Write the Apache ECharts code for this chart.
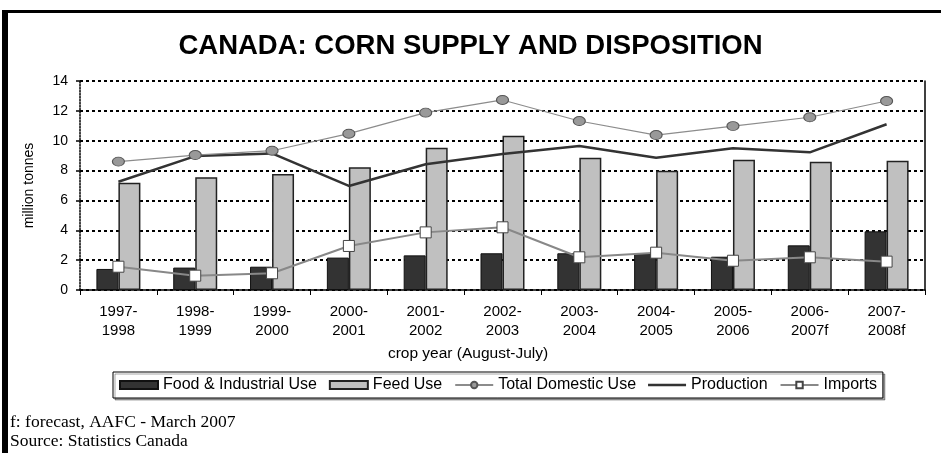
<!DOCTYPE html>
<html>
<head>
<meta charset="utf-8">
<script src="https://cdn.jsdelivr.net/npm/echarts@6/dist/echarts.min.js"></script>
<style>
html,body{margin:0;padding:0;background:#fff;}
#c{width:941px;height:453px;}
</style>
</head>
<body>
<div id="c"></div>
<script>
var categories = ['1997-\n1998','1998-\n1999','1999-\n2000','2000-\n2001','2001-\n2002','2002-\n2003','2003-\n2004','2004-\n2005','2005-\n2006','2006-\n2007f','2007-\n2008f'];
var foodIndustrial = [1.41,1.50,1.56,2.17,2.32,2.46,2.46,2.46,2.23,2.99,3.93];
var feedUse = [7.19,7.55,7.77,8.22,9.53,10.34,8.86,7.99,8.73,8.59,8.66];
var totalDomestic = [8.6,9.04,9.33,10.47,11.88,12.73,11.32,10.38,10.98,11.57,12.66];
var production = [7.25,8.97,9.15,6.97,8.42,9.11,9.64,8.86,9.49,9.22,11.1];
var imports = [1.56,0.96,1.12,2.95,3.86,4.2,2.19,2.5,1.96,2.19,1.9];
var yTicks = {min:0, max:14, interval:2};

var FONT = '"Liberation Sans", Arial, sans-serif';
var chart = echarts.init(document.getElementById('c'));
chart.setOption({
  animation:false,
  backgroundColor:'#fff',
  title:{
    text:'CANADA: CORN SUPPLY AND DISPOSITION',
    left:'center', top:27,
    textStyle:{fontFamily:FONT, fontWeight:'bold', fontSize:27.5, color:'#000'}
  },
  grid:{left:80, right:16, top:81, bottom:163},
  legend:{
    left:113, top:372,
    padding:[5,6,5,6],
    itemGap:12,
    itemWidth:38, itemHeight:8,
    borderColor:'#000', borderWidth:1,
    shadowColor:'rgba(0,0,0,0.35)', shadowOffsetX:2, shadowOffsetY:2, shadowBlur:0,
    backgroundColor:'#fff',
    textStyle:{fontFamily:FONT, fontSize:16, color:'#000'},
    data:[
      {name:'Food & Industrial Use', icon:'rect'},
      {name:'Feed Use', icon:'rect'},
      {name:'Total Domestic Use'},
      {name:'Production', icon:'path://M0,0 L40,0 L40,2.5 L0,2.5 Z'},
      {name:'Imports'}
    ]
  },
  xAxis:{
    type:'category',
    data:categories,
    axisLine:{lineStyle:{color:'#000', width:1.5}},
    axisTick:{show:true, interval:0, length:5, lineStyle:{color:'#000'}},
    axisLabel:{interval:0, fontFamily:FONT, fontSize:15, color:'#000', lineHeight:19, margin:12},
    splitLine:{show:false}
  },
  yAxis:[{
    type:'value',
    min:yTicks.min, max:yTicks.max, interval:yTicks.interval,
    name:'million tonnes',
    nameLocation:'middle',
    nameGap:44,
    nameRotate:90,
    nameTextStyle:{fontFamily:FONT, fontSize:14, color:'#000'},
    axisLine:{show:true, lineStyle:{color:'#000', width:1.5, type:'dotted'}},
    axisTick:{show:true, length:4, lineStyle:{color:'#000', width:1.5}},
    axisLabel:{fontFamily:FONT, fontSize:14, color:'#000', margin:12},
    splitLine:{show:true, lineStyle:{color:'#000', width:2, type:[3,3]}}
  },{
    type:'value',
    min:yTicks.min, max:yTicks.max, interval:yTicks.interval,
    position:'right',
    axisLine:{show:true, lineStyle:{color:'#000', width:1.5}},
    axisTick:{show:false},
    axisLabel:{show:false},
    splitLine:{show:false}
  }],
  series:[
    {
      name:'Food & Industrial Use', type:'bar', data:foodIndustrial,
      barWidth:22, barGap:'0%',
      itemStyle:{color:'#333333', borderColor:'#111', borderWidth:1}
    },
    {
      name:'Feed Use', type:'bar', data:feedUse,
      barWidth:22,
      itemStyle:{color:'#c0c0c0', borderColor:'#222', borderWidth:1.5}
    },
    {
      name:'Production', type:'line', data:production,
      symbol:'none', z:3,
      lineStyle:{color:'#333', width:2.5},
      itemStyle:{color:'#333'}
    },
    {
      name:'Total Domestic Use', type:'line', data:totalDomestic,
      symbol:'circle', symbolSize:[12,9], z:4,
      lineStyle:{color:'#8c8c8c', width:1.2},
      itemStyle:{color:'#999', borderColor:'#555', borderWidth:1}
    },
    {
      name:'Imports', type:'line', data:imports,
      symbol:'rect', symbolSize:11, z:5,
      lineStyle:{color:'#888', width:2},
      itemStyle:{color:'#fff', borderColor:'#444', borderWidth:1}
    }
  ],
  graphic:[
    {type:'rect', shape:{x:2, y:10, width:939, height:3}, style:{fill:'#000'}},
    {type:'rect', shape:{x:2, y:10, width:6, height:443}, style:{fill:'#000'}},
    {type:'text', x:468, y:354, style:{text:'crop year (August-July)', font:'15.5px "Liberation Sans", Arial, sans-serif', fill:'#000', textAlign:'center', textVerticalAlign:'middle'}},
    {type:'text', left:10, top:413, style:{text:'f: forecast, AAFC - March 2007', font:'17.5px "Liberation Serif", "Times New Roman", serif', fill:'#000'}},
    {type:'text', left:10, top:432, style:{text:'Source: Statistics Canada', font:'17.5px "Liberation Serif", "Times New Roman", serif', fill:'#000'}}
  ]
});
</script>
</body>
</html>
